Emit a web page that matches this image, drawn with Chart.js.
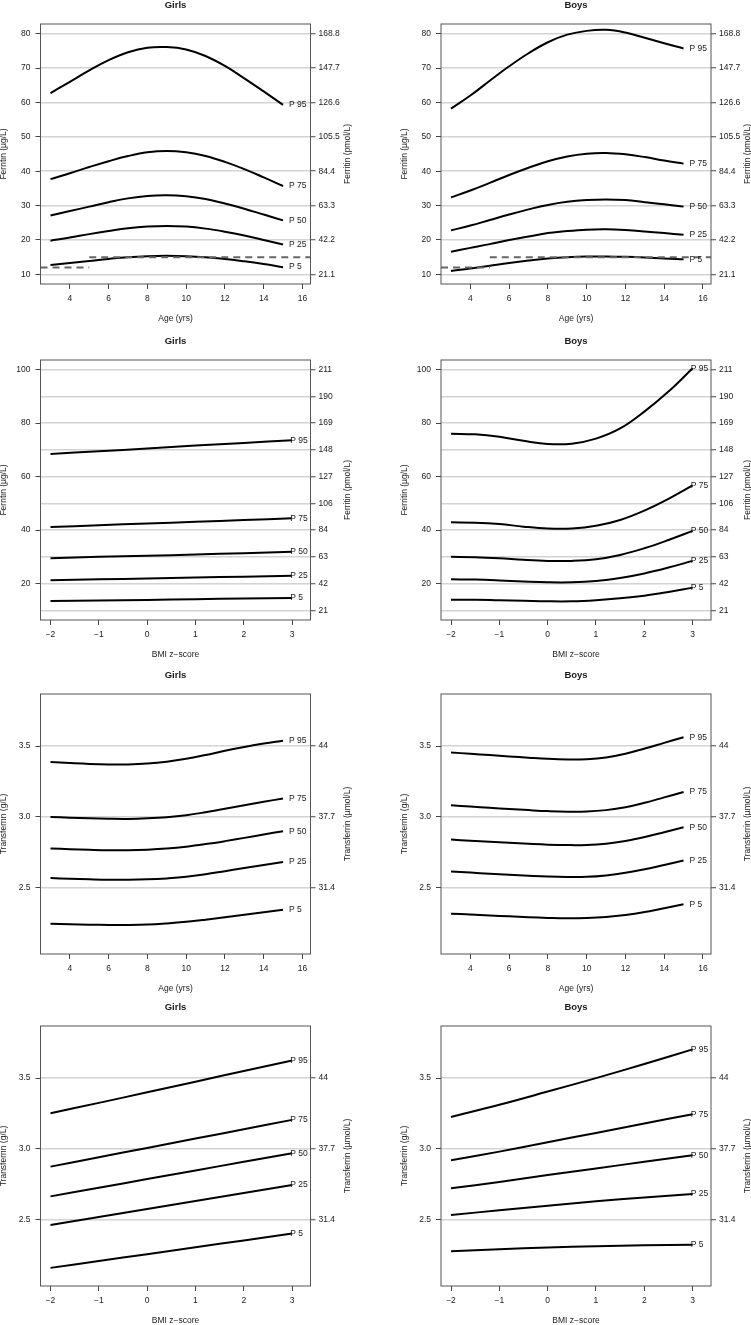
<!DOCTYPE html>
<html>
<head>
<meta charset="utf-8">
<script src="https://cdn.jsdelivr.net/npm/chart.js@4.4.1/dist/chart.umd.min.js"></script>
<style>
  html, body { margin: 0; padding: 0; background: #fff; }
  body { position: relative; width: 751px; height: 1325px; overflow: hidden; }
  canvas { position: absolute; left: 0; }
</style>
</head>
<body>
<script>
// ---- data ----
const ages = [3, 4, 5, 6, 7, 8, 9, 10, 11, 12, 13, 14, 15];
const bmi = [-2, -1, 0, 1, 2, 3];
const bmiHalf = [-2, -1.5, -1, -0.5, 0, 0.5, 1, 1.5, 2, 2.5, 3];
const pctLabels = ['P 5', 'P 25', 'P 50', 'P 75', 'P 95'];

// Ferritin (µg/L) by age
const gFerAgeP5  = [12.7, 13.3, 13.9, 14.5, 15.0, 15.3, 15.4, 15.3, 15.0, 14.5, 13.8, 13.0, 12.1];
const gFerAgeP25 = [19.8, 20.7, 21.7, 22.6, 23.4, 23.9, 24.1, 23.9, 23.3, 22.4, 21.3, 20.0, 18.7];
const gFerAgeP50 = [27.1, 28.4, 29.7, 31.0, 32.1, 32.8, 33.0, 32.7, 31.9, 30.6, 29.1, 27.4, 25.7];
const gFerAgeP75 = [37.7, 39.4, 41.2, 42.9, 44.4, 45.5, 45.9, 45.5, 44.4, 42.7, 40.6, 38.2, 35.7];
const gFerAgeP95 = [62.7, 66.0, 69.3, 72.3, 74.6, 75.9, 76.1, 75.4, 73.5, 70.6, 67.0, 63.2, 59.3];

const bFerAgeP5  = [11.0, 11.7, 12.5, 13.3, 14.0, 14.6, 15.0, 15.2, 15.2, 15.1, 14.9, 14.6, 14.4];
const bFerAgeP25 = [16.6, 17.7, 18.8, 20.0, 21.0, 22.0, 22.6, 23.0, 23.1, 22.9, 22.5, 22.0, 21.5];
const bFerAgeP50 = [22.8, 24.2, 25.8, 27.4, 28.9, 30.2, 31.1, 31.6, 31.8, 31.6, 31.0, 30.4, 29.7];
const bFerAgeP75 = [32.4, 34.4, 36.6, 38.9, 41.0, 42.9, 44.3, 45.1, 45.3, 44.9, 44.1, 43.1, 42.2];
const bFerAgeP95 = [58.2, 62.0, 66.3, 70.5, 74.3, 77.5, 79.7, 80.8, 81.1, 80.3, 78.8, 77.2, 75.7];

// ferritin cut-offs (µg/L): 12 below age 5, 15 from age 5
const cutoffAge = 5;
const cutoffYoung = 12;
const cutoffOld = 15;

// Ferritin (µg/L) by BMI z-score
const gFerBmiP5  = [13.5, 13.7, 13.9, 14.2, 14.4, 14.6];
const gFerBmiP25 = [21.3, 21.6, 21.9, 22.3, 22.6, 22.9];
const gFerBmiP50 = [29.5, 30.0, 30.4, 30.9, 31.4, 31.9];
const gFerBmiP75 = [41.2, 41.8, 42.5, 43.1, 43.8, 44.4];
const gFerBmiP95 = [68.5, 69.5, 70.5, 71.6, 72.6, 73.6];

const bFerBmiP5  = [14.0, 14.0, 13.8, 13.6, 13.4, 13.4, 13.8, 14.5, 15.5, 16.9, 18.5];
const bFerBmiP25 = [21.6, 21.5, 21.2, 20.8, 20.5, 20.5, 21.0, 22.1, 23.8, 26.0, 28.5];
const bFerBmiP50 = [30.0, 29.9, 29.5, 28.9, 28.5, 28.5, 29.1, 30.7, 33.2, 36.3, 39.7];
const bFerBmiP75 = [42.9, 42.8, 42.3, 41.3, 40.6, 40.6, 41.6, 43.8, 47.3, 51.7, 56.7];
const bFerBmiP95 = [76.0, 75.8, 74.9, 73.4, 72.2, 72.3, 74.2, 78.0, 84.3, 91.8, 100.5];

// Transferrin (g/L) by age
const gTrfAgeP5  = [2.246, 2.242, 2.239, 2.237, 2.237, 2.240, 2.248, 2.259, 2.274, 2.291, 2.309, 2.327, 2.345];
const gTrfAgeP25 = [2.568, 2.563, 2.559, 2.556, 2.556, 2.559, 2.566, 2.577, 2.595, 2.617, 2.639, 2.661, 2.681];
const gTrfAgeP50 = [2.777, 2.772, 2.768, 2.765, 2.765, 2.769, 2.777, 2.790, 2.808, 2.829, 2.852, 2.876, 2.899];
const gTrfAgeP75 = [3.000, 2.995, 2.990, 2.987, 2.986, 2.990, 2.998, 3.012, 3.033, 3.057, 3.083, 3.107, 3.130];
const gTrfAgeP95 = [3.387, 3.380, 3.374, 3.371, 3.371, 3.377, 3.390, 3.410, 3.437, 3.467, 3.494, 3.518, 3.538];

const bTrfAgeP5  = [2.317, 2.311, 2.304, 2.298, 2.292, 2.287, 2.284, 2.286, 2.293, 2.307, 2.328, 2.355, 2.383];
const bTrfAgeP25 = [2.615, 2.607, 2.599, 2.592, 2.585, 2.579, 2.576, 2.577, 2.587, 2.605, 2.631, 2.661, 2.692];
const bTrfAgeP50 = [2.840, 2.832, 2.824, 2.817, 2.810, 2.804, 2.801, 2.802, 2.811, 2.830, 2.858, 2.892, 2.927];
const bTrfAgeP75 = [3.082, 3.073, 3.064, 3.056, 3.048, 3.041, 3.037, 3.038, 3.048, 3.068, 3.100, 3.138, 3.176];
const bTrfAgeP95 = [3.455, 3.446, 3.437, 3.427, 3.418, 3.410, 3.406, 3.408, 3.420, 3.446, 3.483, 3.523, 3.563];

// Transferrin (g/L) by BMI z-score
const gTrfBmiP5  = [2.160, 2.209, 2.257, 2.306, 2.354, 2.403];
const gTrfBmiP25 = [2.462, 2.519, 2.575, 2.632, 2.688, 2.745];
const gTrfBmiP50 = [2.665, 2.726, 2.787, 2.848, 2.909, 2.969];
const gTrfBmiP75 = [2.875, 2.941, 3.007, 3.073, 3.139, 3.205];
const gTrfBmiP95 = [3.252, 3.325, 3.400, 3.475, 3.550, 3.625];

const bTrfBmiP5  = [2.278, 2.292, 2.304, 2.313, 2.319, 2.323];
const bTrfBmiP25 = [2.533, 2.567, 2.599, 2.630, 2.657, 2.682];
const bTrfBmiP50 = [2.722, 2.767, 2.816, 2.862, 2.909, 2.955];
const bTrfBmiP75 = [2.920, 2.981, 3.047, 3.113, 3.180, 3.245];
const bTrfBmiP95 = [3.226, 3.312, 3.405, 3.500, 3.600, 3.703];

// ---- tick values and labels ----
const ageTicks = [4, 6, 8, 10, 12, 14, 16];
const ageTickLabels = ['4', '6', '8', '10', '12', '14', '16'];
const bmiTicks = [-2, -1, 0, 1, 2, 3];
const bmiTickLabels = ['\u22122', '\u22121', '0', '1', '2', '3'];

const ferAgeTicks = [10, 20, 30, 40, 50, 60, 70, 80];
const ferAgeLabels = ['10', '20', '30', '40', '50', '60', '70', '80'];
const ferAgePmolLabels = ['21.1', '42.2', '63.3', '84.4', '105.5', '126.6', '147.7', '168.8'];

const ferBmiTicks = [20, 40, 60, 80, 100];
const ferBmiLabels = ['20', '40', '60', '80', '100'];
const ferBmiPmolTicks = [10, 20, 30, 40, 50, 60, 70, 80, 90, 100];
const ferBmiPmolLabels = ['21', '42', '63', '84', '106', '127', '148', '169', '190', '211'];

const trfTicks = [2.5, 3.0, 3.5];
const trfLabels = ['2.5', '3.0', '3.5'];
const trfUmolLabels = ['31.4', '37.7', '44'];

// ---- axes ----
const ageAxis = { min: 2.484, max: 16.416, ticks: ageTicks, labels: ageTickLabels, title: 'Age (yrs)' };
const bmiAxis = { min: -2.207, max: 3.38, ticks: bmiTicks, labels: bmiTickLabels, title: 'BMI z\u2212score' };

const ferAgeY = { min: 7.2, max: 82.8, ticks: ferAgeTicks, labels: ferAgeLabels,
  rTicks: ferAgeTicks, rLabels: ferAgePmolLabels, title: 'Ferritin (\u00b5g/L)', rTitle: 'Ferritin (pmol/L)' };
const ferBmiY = { min: 6.4, max: 103.6, ticks: ferBmiTicks, labels: ferBmiLabels,
  rTicks: ferBmiPmolTicks, rLabels: ferBmiPmolLabels, title: 'Ferritin (\u00b5g/L)', rTitle: 'Ferritin (pmol/L)' };
const trfY = { min: 2.032, max: 3.868, ticks: trfTicks, labels: trfLabels,
  rTicks: trfTicks, rLabels: trfUmolLabels, title: 'Transferrin (g/L)', rTitle: 'Transferrin (\u00b5mol/L)' };

// ---- layout ----
const PAGE_W = 751, PAGE_H = 1325;
const boxLeft = [40.5, 441];
const boxRight = [310.5, 711];
const boxTop = [24, 360, 694, 1026];
const BOX_H = 260;
const AXW = 40, AXH = 30;
const FONT = '"Liberation Sans", Arial, Helvetica, sans-serif';
const TICK_FONT = { family: FONT, size: 8.5 };
const INK = '#1a1a1a';

const panelText = {
  id: 'panelText',
  afterDraw(chart, args, o) {
    const { ctx, chartArea: a } = chart;
    ctx.save();
    // box
    ctx.strokeStyle = '#555';
    ctx.lineWidth = 1;
    ctx.strokeRect(a.left, a.top, a.right - a.left, a.bottom - a.top);

    const cx = (a.left + a.right) / 2, cy = (a.top + a.bottom) / 2;
    ctx.fillStyle = INK;
    ctx.textAlign = 'center';
    ctx.textBaseline = 'alphabetic';
    ctx.font = 'bold 9.5px ' + FONT;
    ctx.fillText(o.title, cx, a.top - 16.3);

    ctx.textBaseline = 'middle';
    ctx.font = '8.5px ' + FONT;
    ctx.fillText(o.xTitle, cx, a.bottom + 35);
    [[a.left - 36.5, o.yTitle], [a.right + 36.7, o.rTitle]].forEach(([x, t]) => {
      ctx.save();
      ctx.translate(x, cy);
      ctx.rotate(-Math.PI / 2);
      ctx.fillText(t, 0, 0);
      ctx.restore();
    });

    // percentile labels at the end of each curve
    ctx.textAlign = 'left';
    chart.data.datasets.forEach((ds, i) => {
      if (!ds.pLabel) return;
      const pts = chart.getDatasetMeta(i).data;
      const last = pts[pts.length - 1];
      ctx.fillText(ds.pLabel, last.x + o.labelGap, last.y);
    });
    ctx.restore();
  }
};

function makePanel(p) {
  const top = boxTop[p.row] - 24;
  const h = Math.min(330, PAGE_H - top);
  const canvas = document.createElement('canvas');
  canvas.width = PAGE_W;
  canvas.height = h;
  canvas.style.top = top + 'px';
  canvas.style.width = PAGE_W + 'px';
  canvas.style.height = h + 'px';
  document.body.appendChild(canvas);

  const datasets = [];
  if (p.cutoffs) {
    const dash = { borderColor: '#666', borderWidth: 2, borderDash: [7, 5], pointRadius: 0, tension: 0, fill: false };
    datasets.push(Object.assign({ data: [{ x: p.xAxis.min, y: cutoffYoung }, { x: cutoffAge, y: cutoffYoung }] }, dash));
    datasets.push(Object.assign({ data: [{ x: cutoffAge, y: cutoffOld }, { x: p.xAxis.max, y: cutoffOld }] }, dash));
  }
  p.series.forEach((ys, i) => {
    datasets.push({
      data: ys.map((y, j) => ({ x: p.xs[j], y: y })),
      pLabel: pctLabels[i],
      borderColor: '#000',
      borderWidth: 2,
      pointRadius: 0,
      fill: false,
      tension: 0.4
    });
  });

  const tickGrid = { drawOnChartArea: false, drawTicks: true, tickLength: 5, tickColor: '#444', tickWidth: 1 };

  new Chart(canvas, {
    type: 'line',
    data: { datasets },
    options: {
      responsive: false,
      animation: false,
      devicePixelRatio: 1,
      events: [],
      layout: {
        padding: {
          top: 24,
          bottom: h - 24 - BOX_H - AXH,
          left: boxLeft[p.col] - AXW,
          right: PAGE_W - boxRight[p.col] - AXW
        }
      },
      plugins: {
        legend: { display: false },
        tooltip: { enabled: false },
        panelText: {
          title: p.title, xTitle: p.xAxis.title, yTitle: p.yAxis.title, rTitle: p.yAxis.rTitle,
          labelGap: p.labelGap
        }
      },
      scales: {
        x: {
          type: 'linear', bounds: 'data', min: p.xAxis.min, max: p.xAxis.max,
          afterBuildTicks: s => { s.ticks = p.xAxis.ticks.map(v => ({ value: v })); },
          afterFit: s => { s.height = AXH; },
          ticks: { autoSkip: false, maxRotation: 0, padding: 5, font: TICK_FONT, color: INK,
            callback: (v, i) => p.xAxis.labels[i] },
          grid: tickGrid,
          border: { display: false }
        },
        y: {
          type: 'linear', position: 'left', bounds: 'data', min: p.yAxis.min, max: p.yAxis.max,
          afterBuildTicks: s => { s.ticks = p.yAxis.ticks.map(v => ({ value: v })); },
          afterFit: s => { s.width = AXW; },
          ticks: { autoSkip: false, padding: 5, font: TICK_FONT, color: INK,
            callback: (v, i) => p.yAxis.labels[i] },
          grid: tickGrid,
          border: { display: false }
        },
        y2: {
          type: 'linear', position: 'right', bounds: 'data', min: p.yAxis.min, max: p.yAxis.max,
          afterBuildTicks: s => { s.ticks = p.yAxis.rTicks.map(v => ({ value: v })); },
          afterFit: s => { s.width = AXW; },
          ticks: { autoSkip: false, padding: 3, font: TICK_FONT, color: INK,
            callback: (v, i) => p.yAxis.rLabels[i] },
          grid: { drawOnChartArea: true, color: '#d3d3d3', lineWidth: 1.5,
            drawTicks: true, tickLength: 5, tickColor: '#444', tickWidth: 1 },
          border: { display: false }
        }
      }
    },
    plugins: [panelText]
  });
}

const panels = [
  { row: 0, col: 0, title: 'Girls', xAxis: ageAxis, yAxis: ferAgeY, xs: ages, labelGap: 6, cutoffs: true,
    series: [gFerAgeP5, gFerAgeP25, gFerAgeP50, gFerAgeP75, gFerAgeP95] },
  { row: 0, col: 1, title: 'Boys', xAxis: ageAxis, yAxis: ferAgeY, xs: ages, labelGap: 6, cutoffs: true,
    series: [bFerAgeP5, bFerAgeP25, bFerAgeP50, bFerAgeP75, bFerAgeP95] },
  { row: 1, col: 0, title: 'Girls', xAxis: bmiAxis, yAxis: ferBmiY, xs: bmi, labelGap: -2,
    series: [gFerBmiP5, gFerBmiP25, gFerBmiP50, gFerBmiP75, gFerBmiP95] },
  { row: 1, col: 1, title: 'Boys', xAxis: bmiAxis, yAxis: ferBmiY, xs: bmiHalf, labelGap: -2,
    series: [bFerBmiP5, bFerBmiP25, bFerBmiP50, bFerBmiP75, bFerBmiP95] },
  { row: 2, col: 0, title: 'Girls', xAxis: ageAxis, yAxis: trfY, xs: ages, labelGap: 6,
    series: [gTrfAgeP5, gTrfAgeP25, gTrfAgeP50, gTrfAgeP75, gTrfAgeP95] },
  { row: 2, col: 1, title: 'Boys', xAxis: ageAxis, yAxis: trfY, xs: ages, labelGap: 6,
    series: [bTrfAgeP5, bTrfAgeP25, bTrfAgeP50, bTrfAgeP75, bTrfAgeP95] },
  { row: 3, col: 0, title: 'Girls', xAxis: bmiAxis, yAxis: trfY, xs: bmi, labelGap: -2,
    series: [gTrfBmiP5, gTrfBmiP25, gTrfBmiP50, gTrfBmiP75, gTrfBmiP95] },
  { row: 3, col: 1, title: 'Boys', xAxis: bmiAxis, yAxis: trfY, xs: bmi, labelGap: -2,
    series: [bTrfBmiP5, bTrfBmiP25, bTrfBmiP50, bTrfBmiP75, bTrfBmiP95] }
];

panels.forEach(makePanel);
</script>
</body>
</html>
